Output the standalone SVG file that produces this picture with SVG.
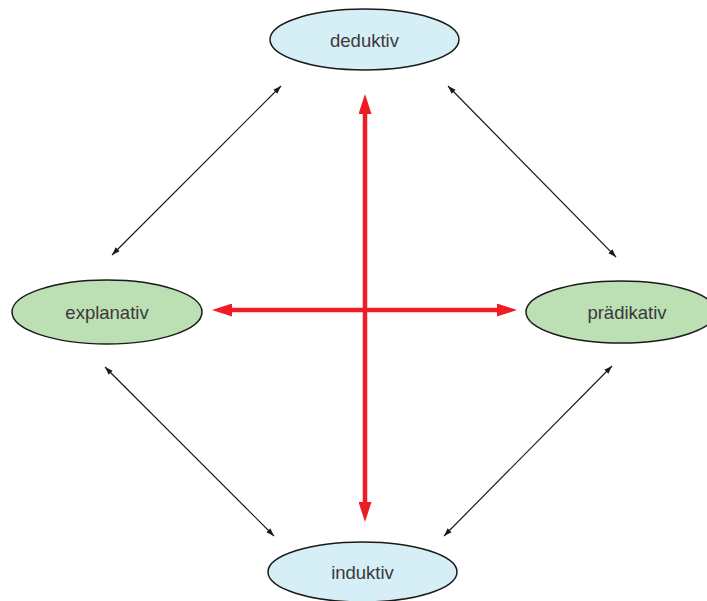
<svg xmlns="http://www.w3.org/2000/svg" width="707" height="601" viewBox="0 0 707 601">
<defs>
<style>
.blue{fill:#d6eef6;stroke:#1a1a1a;stroke-width:1.5}
.green{fill:#bcdfb4;stroke:#1a1a1a;stroke-width:1.5}
.lbl{font-family:"Liberation Sans",Arial,sans-serif;font-size:18.5px;fill:#3a3a3a;text-anchor:middle;dominant-baseline:central}
.thin{stroke:#1a1a1a;stroke-width:1.2;fill:none;marker-start:url(#ka);marker-end:url(#ka)}
.red{stroke:#ee1c25;stroke-width:4.5;fill:none;marker-start:url(#ra);marker-end:url(#ra)}
</style>
<marker id="ka" viewBox="0 0 10 10" refX="10" refY="5" markerWidth="8" markerHeight="8" markerUnits="userSpaceOnUse" orient="auto-start-reverse"><path d="M0,1.5 L10,5 L0,8.5 Z" fill="#1a1a1a"/></marker>
<marker id="ra" viewBox="0 0 20 13" refX="1" refY="6.5" markerWidth="20" markerHeight="13" markerUnits="userSpaceOnUse" orient="auto-start-reverse"><path d="M0,0 L20,6.5 L0,13 Z" fill="#ee1c25"/></marker>
</defs>
<g id="connectors">
<line class="red" x1="365" y1="113" x2="365" y2="503"/>
<line class="red" x1="231" y1="310" x2="498" y2="310"/>
<line class="thin" x1="112" y1="255" x2="281" y2="86"/>
<line class="thin" x1="448" y1="86" x2="616" y2="257"/>
<line class="thin" x1="105" y1="367" x2="274" y2="536"/>
<line class="thin" x1="612" y1="366" x2="444" y2="536"/>
</g>
<g id="deduktiv"><ellipse class="blue" cx="364.5" cy="39.5" rx="94.5" ry="30.5"/><text class="lbl" x="364.5" y="40">deduktiv</text></g>
<g id="explanativ"><ellipse class="green" cx="107" cy="312" rx="95" ry="32"/><text class="lbl" x="107" y="312">explanativ</text></g>
<g id="praedikativ"><ellipse class="green" cx="621" cy="312" rx="95" ry="31"/><text class="lbl" x="627" y="312">prädikativ</text></g>
<g id="induktiv"><ellipse class="blue" cx="362.5" cy="572" rx="94.5" ry="30"/><text class="lbl" x="362.5" y="572">induktiv</text></g>
</svg>
